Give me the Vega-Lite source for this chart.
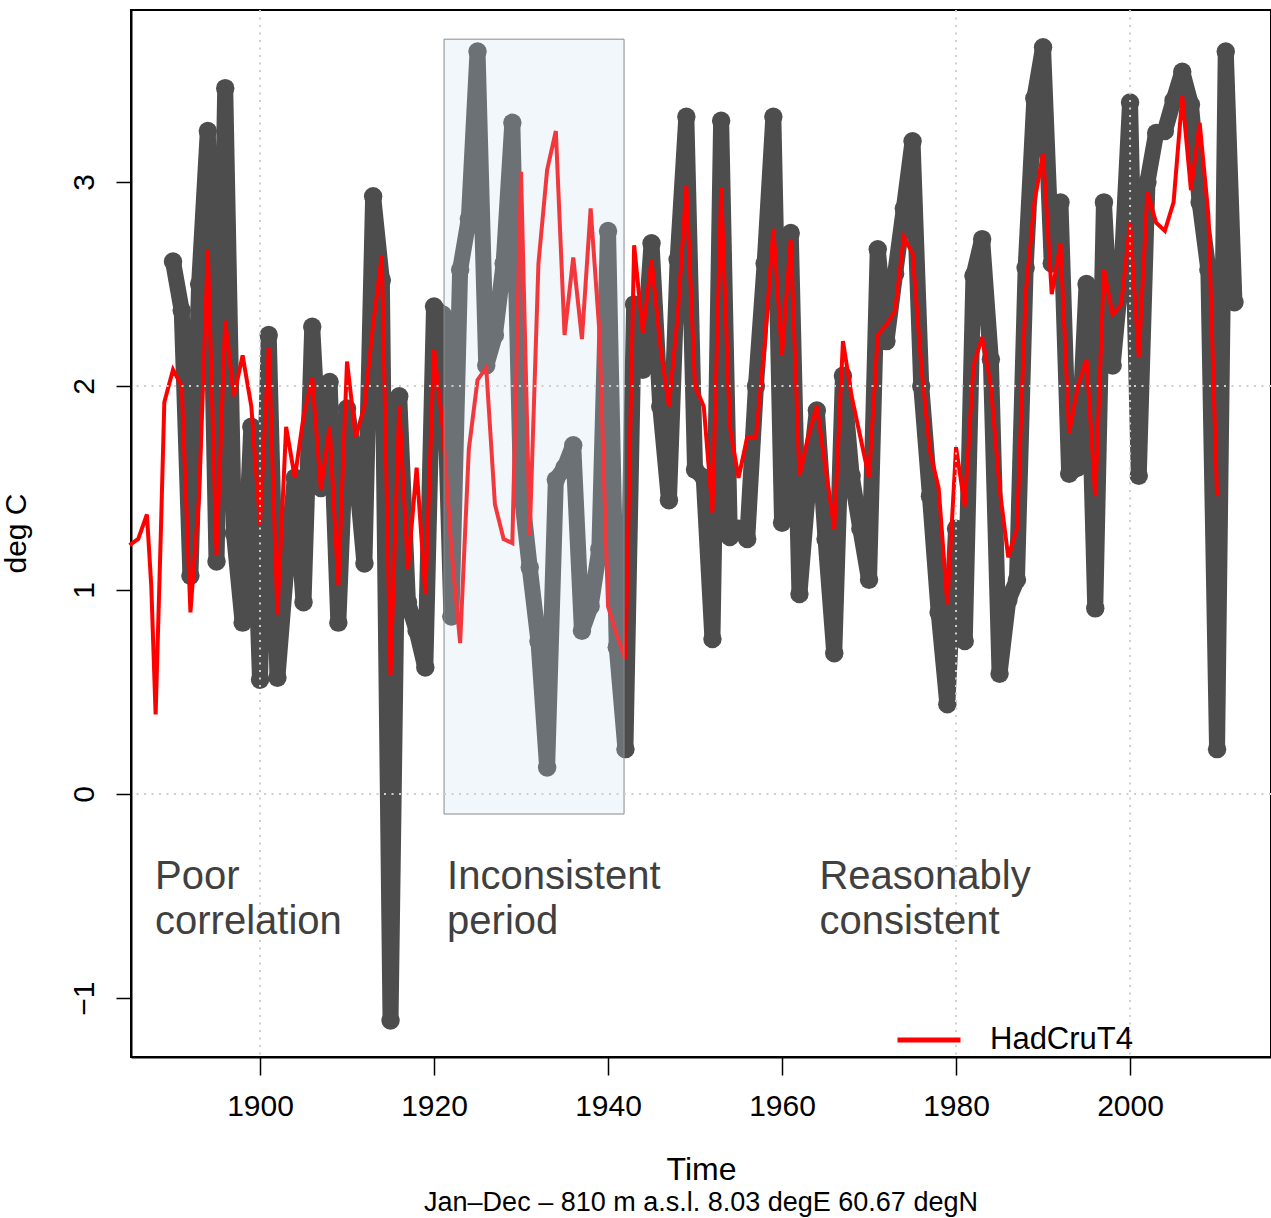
{
  "$schema": "https://vega.github.io/schema/vega-lite/v6.json",
  "width": 1140,
  "height": 1047,
  "autosize": {"type": "none"},
  "padding": {"left": 131, "top": 10, "right": 0, "bottom": 161},
  "background": "white",
  "config": {"view": {"stroke": "#000", "strokeWidth": 2}, "font": "Liberation Sans"},
  "title": {"text": "Jan–Dec  –  810 m a.s.l. 8.03 degE 60.67 degN", "orient": "bottom", "anchor": "middle", "fontSize": 27, "fontWeight": "normal", "color": "#000", "baseline": "top", "offset": 5, "font": "Liberation Sans"},
  "datasets": {
    "station": [
      {"year":1890,"value":2.61},{"year":1891,"value":2.37},{"year":1892,"value":1.07},{"year":1893,"value":2.5},{"year":1894,"value":3.25},{"year":1895,"value":1.14},{"year":1896,"value":3.46},{"year":1897,"value":1.28},{"year":1898,"value":0.84},{"year":1899,"value":1.8},
      {"year":1900,"value":0.56},{"year":1901,"value":2.25},{"year":1902,"value":0.57},{"year":1903,"value":1.1},{"year":1904,"value":1.55},{"year":1905,"value":0.94},{"year":1906,"value":2.29},{"year":1907,"value":1.5},{"year":1908,"value":2.02},{"year":1909,"value":0.84},
      {"year":1910,"value":1.89},{"year":1911,"value":1.6},{"year":1912,"value":1.13},{"year":1913,"value":2.93},{"year":1914,"value":2.52},{"year":1915,"value":-1.11},{"year":1916,"value":1.95},{"year":1917,"value":0.94},{"year":1918,"value":0.8},{"year":1919,"value":0.62},
      {"year":1920,"value":2.39},{"year":1921,"value":2.35},{"year":1922,"value":0.87},{"year":1923,"value":2.57},{"year":1924,"value":2.82},{"year":1925,"value":3.64},{"year":1926,"value":2.1},{"year":1927,"value":2.25},{"year":1928,"value":2.6},{"year":1929,"value":3.29},
      {"year":1930,"value":1.5},{"year":1931,"value":1.11},{"year":1932,"value":0.75},{"year":1933,"value":0.13},{"year":1934,"value":1.54},{"year":1935,"value":1.6},{"year":1936,"value":1.71},{"year":1937,"value":0.8},{"year":1938,"value":0.92},{"year":1939,"value":1.2},
      {"year":1940,"value":2.76},{"year":1941,"value":0.72},{"year":1942,"value":0.22},{"year":1943,"value":2.4},{"year":1944,"value":2.08},{"year":1945,"value":2.7},{"year":1946,"value":1.9},{"year":1947,"value":1.44},{"year":1948,"value":2.62},{"year":1949,"value":3.32},
      {"year":1950,"value":1.59},{"year":1951,"value":1.55},{"year":1952,"value":0.76},{"year":1953,"value":3.3},{"year":1954,"value":1.26},{"year":1955,"value":1.3},{"year":1956,"value":1.25},{"year":1957,"value":2.0},{"year":1958,"value":2.6},{"year":1959,"value":3.32},
      {"year":1960,"value":1.33},{"year":1961,"value":2.75},{"year":1962,"value":0.98},{"year":1963,"value":1.5},{"year":1964,"value":1.88},{"year":1965,"value":1.25},{"year":1966,"value":0.69},{"year":1967,"value":2.05},{"year":1968,"value":1.56},{"year":1969,"value":1.3},
      {"year":1970,"value":1.05},{"year":1971,"value":2.67},{"year":1972,"value":2.22},{"year":1973,"value":2.55},{"year":1974,"value":2.87},{"year":1975,"value":3.2},{"year":1976,"value":2.0},{"year":1977,"value":1.46},{"year":1978,"value":0.89},{"year":1979,"value":0.44},
      {"year":1980,"value":1.3},{"year":1981,"value":0.75},{"year":1982,"value":2.54},{"year":1983,"value":2.72},{"year":1984,"value":2.13},{"year":1985,"value":0.59},{"year":1986,"value":0.95},{"year":1987,"value":1.05},{"year":1988,"value":2.58},{"year":1989,"value":3.41},
      {"year":1990,"value":3.66},{"year":1991,"value":2.6},{"year":1992,"value":2.9},{"year":1993,"value":1.57},{"year":1994,"value":1.6},{"year":1995,"value":2.5},{"year":1996,"value":0.91},{"year":1997,"value":2.9},{"year":1998,"value":2.1},{"year":1999,"value":2.55},
      {"year":2000,"value":3.39},{"year":2001,"value":1.56},{"year":2002,"value":3.0},{"year":2003,"value":3.24},{"year":2004,"value":3.25},{"year":2005,"value":3.4},{"year":2006,"value":3.54},{"year":2007,"value":3.38},{"year":2008,"value":2.9},{"year":2009,"value":2.57},
      {"year":2010,"value":0.22},{"year":2011,"value":3.64},{"year":2012,"value":2.41}
    ],
    "hadcrut": [
      {"year":1885,"value":1.22},{"year":1886,"value":1.25},{"year":1887,"value":1.37},{"year":1887.5,"value":1.02},{"year":1888,"value":0.39},{"year":1888.6,"value":1.28},{"year":1889,"value":1.92},
      {"year":1890,"value":2.08},{"year":1891,"value":2.0},{"year":1892,"value":0.89},{"year":1893,"value":1.46},{"year":1894,"value":2.67},{"year":1895,"value":1.17},{"year":1896,"value":2.32},{"year":1897,"value":1.95},{"year":1898,"value":2.15},{"year":1899,"value":1.9},
      {"year":1900,"value":1.32},{"year":1901,"value":2.19},{"year":1902,"value":0.88},{"year":1903,"value":1.8},{"year":1904,"value":1.55},{"year":1905,"value":1.85},{"year":1906,"value":2.04},{"year":1907,"value":1.49},{"year":1908,"value":1.8},{"year":1909,"value":1.02},
      {"year":1910,"value":2.12},{"year":1911,"value":1.75},{"year":1912,"value":1.9},{"year":1913,"value":2.3},{"year":1914,"value":2.64},{"year":1915,"value":0.58},{"year":1916,"value":1.9},{"year":1917,"value":1.1},{"year":1918,"value":1.6},{"year":1919,"value":0.98},
      {"year":1920,"value":2.18},{"year":1921,"value":1.8},{"year":1922,"value":1.2},{"year":1923,"value":0.74},{"year":1924,"value":1.69},{"year":1925,"value":2.03},{"year":1926,"value":2.09},{"year":1927,"value":1.42},{"year":1928,"value":1.25},{"year":1929,"value":1.23},
      {"year":1930,"value":3.05},{"year":1931,"value":1.27},{"year":1932,"value":2.6},{"year":1933,"value":3.06},{"year":1934,"value":3.25},{"year":1935,"value":2.25},{"year":1936,"value":2.63},{"year":1937,"value":2.23},{"year":1938,"value":2.87},{"year":1939,"value":2.27},
      {"year":1940,"value":0.92},{"year":1941,"value":0.78},{"year":1942,"value":0.66},{"year":1943,"value":2.69},{"year":1944,"value":2.26},{"year":1945,"value":2.62},{"year":1946,"value":2.2},{"year":1947,"value":1.9},{"year":1948,"value":2.34},{"year":1949,"value":2.98},
      {"year":1950,"value":2.0},{"year":1951,"value":1.9},{"year":1952,"value":1.38},{"year":1953,"value":2.97},{"year":1954,"value":1.8},{"year":1955,"value":1.55},{"year":1956,"value":1.75},{"year":1957,"value":1.75},{"year":1958,"value":2.2},{"year":1959,"value":2.77},
      {"year":1960,"value":2.15},{"year":1961,"value":2.72},{"year":1962,"value":1.56},{"year":1963,"value":1.75},{"year":1964,"value":1.9},{"year":1965,"value":1.6},{"year":1966,"value":1.3},{"year":1967,"value":2.22},{"year":1968,"value":1.95},{"year":1969,"value":1.75},
      {"year":1970,"value":1.55},{"year":1971,"value":2.25},{"year":1972,"value":2.3},{"year":1973,"value":2.37},{"year":1974,"value":2.73},{"year":1975,"value":2.65},{"year":1976,"value":2.1},{"year":1977,"value":1.68},{"year":1978,"value":1.5},{"year":1979,"value":0.93},
      {"year":1980,"value":1.7},{"year":1981,"value":1.41},{"year":1982,"value":2.1},{"year":1983,"value":2.24},{"year":1984,"value":2.0},{"year":1985,"value":1.5},{"year":1986,"value":1.16},{"year":1987,"value":1.3},{"year":1988,"value":2.45},{"year":1989,"value":2.9},
      {"year":1990,"value":3.14},{"year":1991,"value":2.45},{"year":1992,"value":2.7},{"year":1993,"value":1.77},{"year":1994,"value":2.0},{"year":1995,"value":2.13},{"year":1996,"value":1.46},{"year":1997,"value":2.57},{"year":1998,"value":2.35},{"year":1999,"value":2.4},
      {"year":2000,"value":2.8},{"year":2001,"value":2.14},{"year":2002,"value":2.95},{"year":2003,"value":2.8},{"year":2004,"value":2.76},{"year":2005,"value":2.9},{"year":2006,"value":3.42},{"year":2007,"value":2.96},{"year":2008,"value":3.29},{"year":2009,"value":2.84},
      {"year":2010,"value":1.46}
    ],
    "box": [{"year":1921.15,"year2":1941.84,"value":-0.098,"value2":3.7}],
    "gridx": [{"year":1900},{"year":1980},{"year":2000}],
    "gridy": [{"value":0},{"value":2}],
    "notes": [
      {"year":1887.93,"value":-0.466,"label":"Poor\ncorrelation"},
      {"year":1921.5,"value":-0.466,"label":"Inconsistent\nperiod"},
      {"year":1964.3,"value":-0.466,"label":"Reasonably\nconsistent"}
    ]
  },
  "layer": [
    {
      "data": {"name": "station"},
      "mark": {"type": "line", "color": "#4d4d4d", "strokeWidth": 16, "strokeJoin": "round", "strokeCap": "butt", "point": {"filled": true, "size": 340, "color": "#4d4d4d"}},
      "encoding": {
        "x": {"field": "year", "type": "quantitative", "scale": {"domain": [1885.17, 2016.2], "nice": false, "zero": false},
          "axis": {"values": [1900,1920,1940,1960,1980,2000], "format": "d", "grid": false, "labelFontSize": 30, "labelColor": "#000", "labelFont": "Liberation Sans", "tickColor": "#000", "tickSize": 18, "tickWidth": 1.5, "domainColor": "#000", "domainWidth": 2, "labelPadding": 16, "title": "Time", "titleFontSize": 32, "titleFontWeight": "normal", "titleColor": "#000", "titleFont": "Liberation Sans", "titleY": 122, "titleBaseline": "alphabetic"}},
        "y": {"field": "value", "type": "quantitative", "scale": {"domain": [-1.289, 3.843], "nice": false, "zero": false},
          "axis": {"values": [-1,0,1,2,3], "format": "d", "grid": false, "labelAngle": -90, "labelAlign": "center", "labelBaseline": "alphabetic", "labelPadding": 23, "labelFontSize": 30, "labelColor": "#000", "labelFont": "Liberation Sans", "tickColor": "#000", "tickSize": 15, "tickWidth": 1.5, "domainColor": "#000", "domainWidth": 2, "title": "deg C", "titleAngle": -90, "titleX": -106, "titleY": 523, "titleAlign": "center", "titleBaseline": "alphabetic", "titleFontSize": 30, "titleFontWeight": "normal", "titleColor": "#000", "titleFont": "Liberation Sans"}}
      }
    },
    {
      "data": {"name": "hadcrut"},
      "mark": {"type": "line", "strokeWidth": 4, "strokeJoin": "miter"},
      "encoding": {
        "x": {"field": "year", "type": "quantitative", "scale": {"domain": [1885.17, 2016.2], "nice": false, "zero": false}},
        "y": {"field": "value", "type": "quantitative", "scale": {"domain": [-1.289, 3.843], "nice": false, "zero": false}},
        "color": {"datum": "HadCruT4", "scale": {"domain": ["HadCruT4"], "range": ["#ff0000"]},
          "legend": {"orient": "none", "legendX": 764, "legendY": 996, "title": null, "symbolType": "stroke", "symbolSize": 3969, "symbolStrokeWidth": 5, "symbolStrokeColor": "#ff0000", "labelFontSize": 31, "labelColor": "#000", "labelFont": "Liberation Sans", "labelOffset": 27, "padding": 0}}
      }
    },
    {
      "data": {"name": "box"},
      "mark": {"type": "rect", "fill": "#cbdff3", "fillOpacity": 0.25, "stroke": "#8a8a8a", "strokeWidth": 1},
      "encoding": {
        "x": {"field": "year", "type": "quantitative"},
        "x2": {"field": "year2"},
        "y": {"field": "value", "type": "quantitative"},
        "y2": {"field": "value2"}
      }
    },
    {
      "data": {"name": "gridx"},
      "mark": {"type": "rule", "color": "#cfcfcf", "strokeWidth": 2, "strokeDash": [2, 5.5]},
      "encoding": {"x": {"field": "year", "type": "quantitative"}}
    },
    {
      "data": {"name": "gridy"},
      "mark": {"type": "rule", "color": "#cfcfcf", "strokeWidth": 2, "strokeDash": [2, 5.5]},
      "encoding": {"y": {"field": "value", "type": "quantitative"}}
    },
    {
      "data": {"name": "notes"},
      "mark": {"type": "text", "align": "left", "baseline": "alphabetic", "fontSize": 40, "color": "#404040", "font": "Liberation Sans", "lineBreak": "\n", "lineHeight": 45},
      "encoding": {
        "x": {"field": "year", "type": "quantitative"},
        "y": {"field": "value", "type": "quantitative"},
        "text": {"field": "label"}
      }
    }
  ]
}
